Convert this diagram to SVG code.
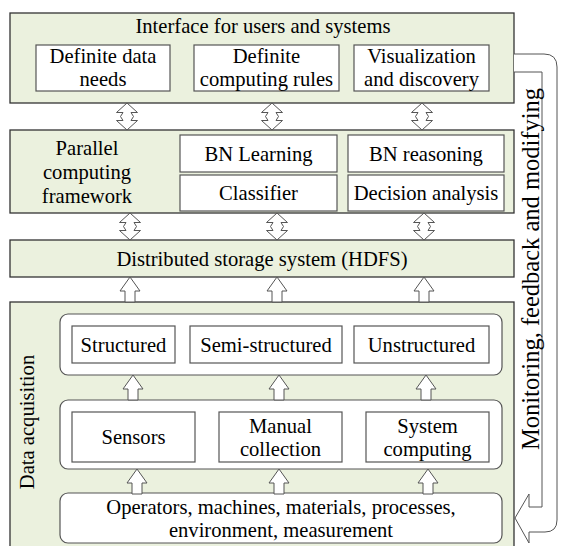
<svg xmlns="http://www.w3.org/2000/svg" xmlns:xlink="http://www.w3.org/1999/xlink" width="561" height="546" viewBox="0 0 561 546">
  <style>
    .panel { fill: #ebf1de; stroke: #333; stroke-width: 1.3; }
    .box { fill: #fff; stroke: #555; stroke-width: 1.2; }
    .grp { fill: #fff; stroke: #555; stroke-width: 1.2; }
    .arrow { fill: #fff; stroke: #555; stroke-width: 1; }
    .t { font-family: 'Liberation Serif', 'Times New Roman', serif; font-size: 20.6px; fill: #000; text-anchor: middle; }
    .big { font-size: 24.5px; }
  </style>
  <defs>
    <!-- two-way block arrow, 27 tall -->
    <path id="dbl" d="M0,0 L10.5,9.5 L4,9.5 L6.5,13.5 L4,17.5 L10.5,17.5 L0,27 L-10.5,17.5 L-4,17.5 L-6.5,13.5 L-4,9.5 L-10.5,9.5 Z"/>
    <!-- one-way block arrow pointing up, 25 tall -->
    <path id="up" d="M0,0 L10,14 L5,14 L5,25 L-5,25 L-5,14 L-10,14 Z"/>
  </defs>
  <rect width="561" height="546" fill="#fff"/>

  <!-- layer: interface -->
  <g id="interface">
    <rect class="panel" x="10" y="13" width="504" height="90"/>
    <text class="t" x="263" y="33">Interface for users and systems</text>
    <g id="data-needs">
      <rect class="box" x="36" y="45" width="134" height="46"/>
      <text class="t" x="103" y="63">Definite data</text>
      <text class="t" x="103" y="86">needs</text>
    </g>
    <g id="computing-rules">
      <rect class="box" x="194" y="45" width="145" height="46"/>
      <text class="t" x="266.5" y="63">Definite</text>
      <text class="t" x="266.5" y="86">computing rules</text>
    </g>
    <g id="visualization">
      <rect class="box" x="354" y="45" width="135" height="46"/>
      <text class="t" x="421.5" y="63">Visualization</text>
      <text class="t" x="421.5" y="86">and discovery</text>
    </g>
  </g>

  <!-- layer: parallel computing -->
  <g id="parallel">
    <rect class="panel" x="10" y="130" width="504" height="83"/>
    <text class="t" x="87" y="154.5">Parallel</text>
    <text class="t" x="87" y="178.5">computing</text>
    <text class="t" x="87" y="202.5">framework</text>
    <g id="bn-learning">
      <rect class="box" x="180" y="135" width="157" height="37"/>
      <text class="t" x="258.5" y="160.5">BN Learning</text>
    </g>
    <g id="classifier">
      <rect class="box" x="180" y="175" width="157" height="36"/>
      <text class="t" x="258.5" y="200">Classifier</text>
    </g>
    <g id="bn-reasoning">
      <rect class="box" x="348" y="135" width="156" height="37"/>
      <text class="t" x="426" y="160.5">BN reasoning</text>
    </g>
    <g id="decision">
      <rect class="box" x="348" y="175" width="156" height="36"/>
      <text class="t" x="426" y="200">Decision analysis</text>
    </g>
  </g>

  <!-- layer: storage -->
  <g id="hdfs">
    <rect class="panel" x="10" y="240" width="504" height="37"/>
    <text class="t" x="262" y="265.5">Distributed storage system (HDFS)</text>
  </g>

  <!-- layer: data acquisition -->
  <g id="acquisition">
    <rect class="panel" x="10" y="302" width="504" height="250"/>
    <text class="t" transform="translate(34,422) rotate(-90)">Data acquisition</text>
    <g id="data-types">
      <rect class="grp" x="60" y="314" width="442" height="61" rx="8"/>
      <g id="structured">
        <rect class="box" x="72" y="326" width="103" height="37"/>
        <text class="t" x="123.5" y="351.5">Structured</text>
      </g>
      <g id="semi-structured">
        <rect class="box" x="190" y="326" width="152" height="37"/>
        <text class="t" x="266" y="351.5">Semi-structured</text>
      </g>
      <g id="unstructured">
        <rect class="box" x="354" y="326" width="135" height="37"/>
        <text class="t" x="421.5" y="351.5">Unstructured</text>
      </g>
    </g>
    <g id="sources">
      <rect class="grp" x="60" y="400" width="442" height="69" rx="8"/>
      <g id="sensors">
        <rect class="box" x="72" y="412" width="123" height="50"/>
        <text class="t" x="133.5" y="444">Sensors</text>
      </g>
      <g id="manual">
        <rect class="box" x="219" y="412" width="123" height="50"/>
        <text class="t" x="280.5" y="432.5">Manual</text>
        <text class="t" x="280.5" y="455.5">collection</text>
      </g>
      <g id="system-computing">
        <rect class="box" x="366" y="412" width="123" height="50"/>
        <text class="t" x="427.5" y="432.5">System</text>
        <text class="t" x="427.5" y="455.5">computing</text>
      </g>
    </g>
    <g id="factors">
      <rect class="grp" x="60" y="493" width="442" height="50" rx="8"/>
      <text class="t" x="281" y="513.5">Operators, machines, materials, processes,</text>
      <text class="t" x="281" y="536.5">environment, measurement</text>
    </g>
  </g>

  <!-- connectors -->
  <g id="connectors">
    <use class="arrow" xlink:href="#dbl" x="127" y="103"/>
    <use class="arrow" xlink:href="#dbl" x="272" y="103"/>
    <use class="arrow" xlink:href="#dbl" x="422" y="103"/>
    <use class="arrow" xlink:href="#dbl" x="130" y="213"/>
    <use class="arrow" xlink:href="#dbl" x="277" y="213"/>
    <use class="arrow" xlink:href="#dbl" x="424" y="213"/>
    <use class="arrow" xlink:href="#up" x="130" y="277"/>
    <use class="arrow" xlink:href="#up" x="277" y="277"/>
    <use class="arrow" xlink:href="#up" x="424" y="277"/>
    <use class="arrow" xlink:href="#up" x="133" y="375"/>
    <use class="arrow" xlink:href="#up" x="279" y="375"/>
    <use class="arrow" xlink:href="#up" x="426" y="375"/>
    <use class="arrow" xlink:href="#up" x="137" y="469"/>
    <use class="arrow" xlink:href="#up" x="279" y="469"/>
    <use class="arrow" xlink:href="#up" x="428" y="469"/>
    <!-- feedback loop from the interface back to the physical factors -->
    <path class="arrow" d="M514,54 L544,54 Q557,54 557,67 L557,520 Q557,532 545,532 L529,532 L529,543 L515,518 L529,494 L529,507 L542,507 L542,72 L514,72"/>
    <text class="t big" transform="translate(539,269) rotate(-90)">Monitoring, feedback and modifying</text>
  </g>
</svg>
